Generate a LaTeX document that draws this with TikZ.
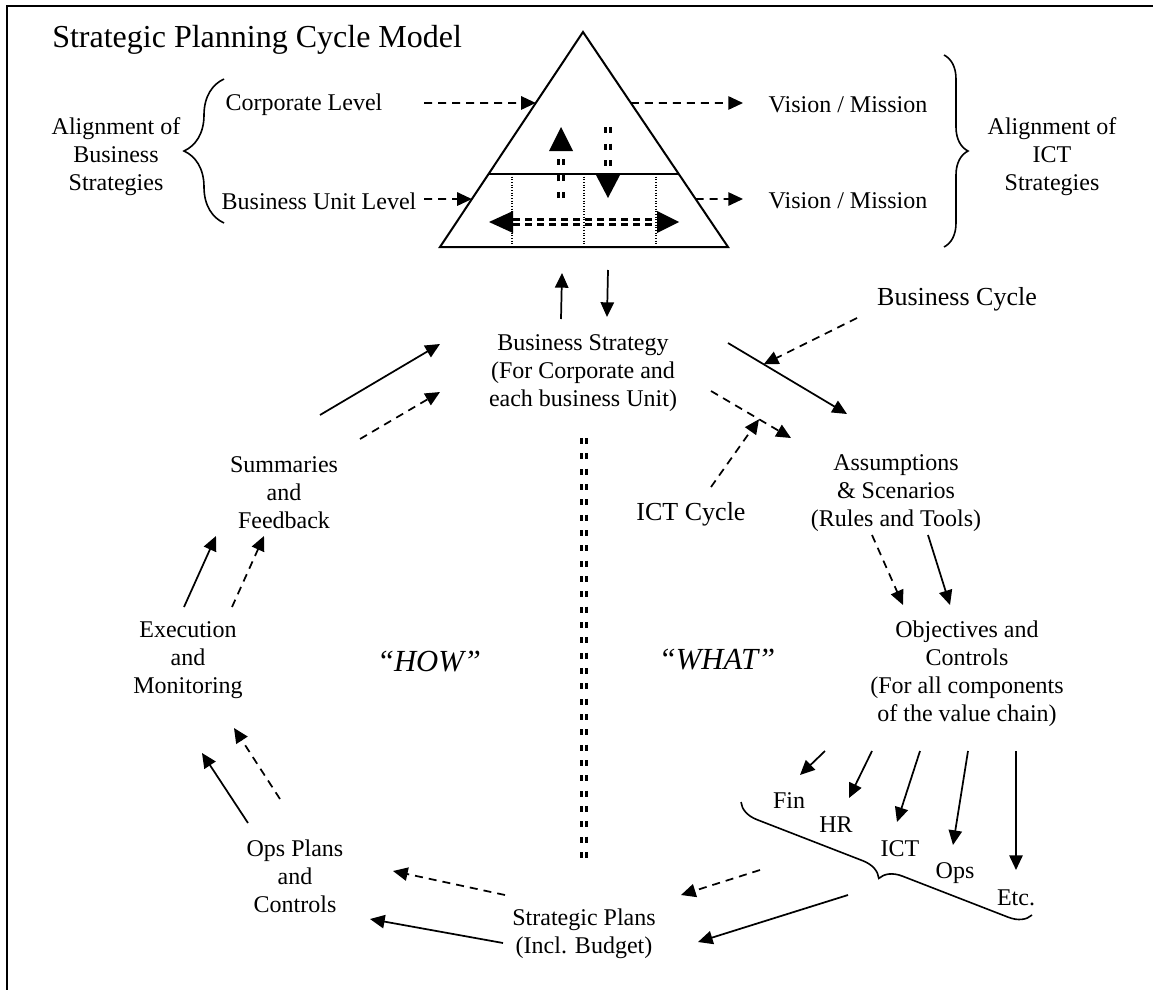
\documentclass[tikz,border=0pt]{standalone}
\usepackage{fontspec}
\setmainfont{Liberation Serif}
\usetikzlibrary{arrows.meta,calc,decorations.pathreplacing}

\begin{document}
\begin{tikzpicture}[
    x=0.75pt, y=-0.75pt,
    lbl/.style={font=\fontsize{18}{21}\selectfont, align=center, inner sep=0pt},
    cyc/.style={font=\fontsize{19.5}{23}\selectfont, inner sep=0pt},
    hw/.style={font=\fontsize{23}{27}\selectfont\itshape, inner sep=0pt},
    arr/.style={-{Triangle[length=11pt,width=10pt]}, line width=1.3pt},
    darr/.style={arr, dash pattern=on 6pt off 4.5pt},
    tri/.style={line width=1.5pt, line join=miter},
    dots/.style={line width=0.8pt, dash pattern=on 0.8pt off 1.2pt},
    dbl/.style={double, double distance=2.2pt, line width=1.6pt, dash pattern=on 4.5pt off 8pt},
    curly/.style={decorate, decoration={brace, amplitude=#1}, line width=1.2pt}
  ]
    \useasboundingbox (0,0) rectangle (1153,989);
    \draw[line width=2.2pt] (7,995) -- (7,6) -- (1160,6);

    \node[lbl, anchor=base west, font=\fontsize{24}{28}\selectfont] (title) at (52,47) {Strategic Planning Cycle Model};

    % pyramid
    \coordinate (apex) at (583,32);
    \coordinate (bl) at (440,247);
    \coordinate (br) at (728,247);
    \coordinate (basemid) at ($(bl)!0.5!(br)$);
    \draw[tri] (apex) -- (bl) -- (br) -- cycle;
    \draw[tri] ($(apex)!0.66!(bl)$) -- ($(apex)!0.66!(br)$);
    \foreach \x in {512,584,656}
      \draw[dots] (\x,174) -- (\x,247);
    \draw[dbl] (561,198) -- (561,151);
    \fill (561,127) -- (549,151) -- (573,151) -- cycle;
    \draw[dbl] (608,127) -- (608,175);
    \fill (596,175) -- (620,175) -- (608,198) -- cycle;
    \draw[dbl, dash pattern=on 5pt off 4pt] (513,222) -- (657,222);
    \fill (489,222) -- (513,211) -- (513,233) -- cycle;
    \fill (679,222) -- (657,211) -- (657,233) -- cycle;

    \node[lbl] (alignb) at (116,157) {Alignment of\\Business\\Strategies};
    \node[lbl] (corp) at (304,105) {Corporate Level};
    \node[lbl] (bu) at (319,201) {Business Unit Level};
    \node[lbl] (vis1) at (848,105) {Vision / Mission};
    \node[lbl] (vis2) at (848,201) {Vision / Mission};
    \node[lbl] (aligni) at (1052,157) {Alignment of\\ICT\\Strategies};
    \node[lbl] (bs) at (583,373) {Business Strategy\\(For Corporate and\\each business Unit)};
    \node[cyc] (bcyc) at (957,299) {Business Cycle};
    \node[cyc] (ictcyc) at (691,514) {ICT Cycle};
    \node[lbl] (summ) at (284,493) {Summaries\\and\\Feedback};
    \node[lbl] (assum) at (896,493) {Assumptions\\\& Scenarios\\(Rules and Tools)};
    \node[lbl] (exec) at (188,660) {Execution\\and\\Monitoring};
    \node[hw] (how) at (429,662) {“HOW”};
    \node[hw] (what) at (717,660) {“WHAT”};
    \node[lbl] (obj) at (967,674) {Objectives and\\Controls\\(For all components\\of the value chain)};
    \node[lbl] (cfin) at (789,801) {Fin};
    \node[lbl] (chr) at (836,825) {HR};
    \node[lbl] (cict) at (900,849) {ICT};
    \node[lbl] (cops) at (955,873) {Ops};
    \node[lbl] (cetc) at (1016,898) {Etc.};
    \node[lbl] (opsplan) at (295,876) {Ops Plans\\and\\Controls};
    \node[lbl] (sp) at (584,934) {Strategic Plans\\(Incl. Budget)};

    \draw[curly=30pt] (224,223) -- (224,79);
    \draw[curly=18pt] (944,55) -- (944,247);
    \draw[curly=16pt] (1032,915) -- (741,802);
    \coordinate (bracetip) at (877,879);

    \draw[darr] ([shift={(120,-2)}]corp.center) -- ($(apex)!0.33!(bl)$);
    \draw[darr] ([shift={(105,-2)}]bu.center) -- ($(apex)!0.777!(bl)$);
    \draw[darr] ($(apex)!0.33!(br)$) -- ([shift={(-105,-2)}]vis1.center);
    \draw[darr] ($(apex)!0.777!(br)$) -- ([shift={(-105,-2)}]vis2.center);
    \draw[arr] ([shift={(-22,-54)}]bs.center) -- ([shift={(-22,26)}]basemid);
    \draw[arr] ([shift={(24,23)}]basemid) -- ([shift={(24,-56)}]bs.center);

    \draw[dbl, dash pattern=on 4.5pt off 7pt] ([shift={(1,65)}]bs.center) -- ([shift={(0,-72)}]sp.center);

    \draw[arr] ([shift={(145,-30)}]bs.center) -- coordinate[pos=0.3] (bsa) ([shift={(-49,-79)}]assum.center);
    \draw[darr] ([shift={(128,18)}]bs.center) -- coordinate[pos=0.6] (bsb) ([shift={(-105,-55)}]assum.center);
    \draw[darr] ([shift={(-100,19)}]bcyc.center) -- (bsa);
    \draw[darr] ([shift={(20,-27)}]ictcyc.center) -- (bsb);
    \draw[darr] ([shift={(-24,42)}]assum.center) -- ([shift={(-64,-69)}]obj.center);
    \draw[arr] ([shift={(32,42)}]assum.center) -- ([shift={(-17,-69)}]obj.center);

    \draw[arr] ([shift={(-142,77)}]obj.center) -- ([shift={(11,-26)}]cfin.center);
    \draw[arr] ([shift={(-95,77)}]obj.center) -- ([shift={(13,-27)}]chr.center);
    \draw[arr] ([shift={(-47,77)}]obj.center) -- ([shift={(-3,-27)}]cict.center);
    \draw[arr] ([shift={(1,77)}]obj.center) -- ([shift={(-2,-28)}]cops.center);
    \draw[arr] ([shift={(49,77)}]obj.center) -- ([shift={(0,-28)}]cetc.center);

    \draw[darr] ([shift={(-117,-9)}]bracetip) -- ([shift={(97,-39)}]sp.center);
    \draw[arr] ([shift={(-29,16)}]bracetip) -- ([shift={(114,8)}]sp.center);
    \draw[darr] ([shift={(-79,-39)}]sp.center) -- ([shift={(98,-5)}]opsplan.center);
    \draw[arr] ([shift={(-81,9)}]sp.center) -- ([shift={(75,43)}]opsplan.center);

    \draw[arr] ([shift={(-47,-53)}]opsplan.center) -- ([shift={(14,93)}]exec.center);
    \draw[darr] ([shift={(-15,-77)}]opsplan.center) -- ([shift={(46,68)}]exec.center);
    \draw[arr] ([shift={(-4,-53)}]exec.center) -- ([shift={(-68,43)}]summ.center);
    \draw[darr] ([shift={(44,-53)}]exec.center) -- ([shift={(-20,43)}]summ.center);
    \draw[arr] ([shift={(36,-78)}]summ.center) -- ([shift={(-143,-29)}]bs.center);
    \draw[darr] ([shift={(76,-54)}]summ.center) -- ([shift={(-143,19)}]bs.center);
  \end{tikzpicture}
\end{document}
